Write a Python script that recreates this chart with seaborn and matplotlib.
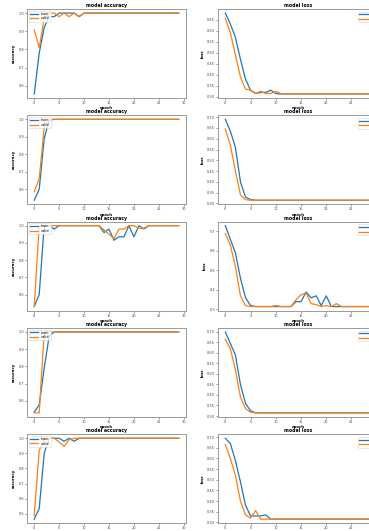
import matplotlib
matplotlib.use('Agg')
import matplotlib.pyplot as plt
import numpy as np
import pandas as pd
import seaborn as sns

epochs = list(range(30))

acc_train = [
    [0.555, 0.78, 0.92, 0.98, 0.98, 1.0, 1.0, 1.0, 1.0, 0.98, 1.0] + [1.0] * 19,
    [0.537, 0.60, 0.89, 0.995] + [1.0] * 26,
    [0.53, 0.60, 1.0, 1.0, 0.98, 1.0, 1.0, 1.0, 1.0, 1.0, 1.0, 1.0, 1.0, 1.0,
     0.96, 0.98, 0.915, 0.935, 0.935, 1.0, 0.935, 1.0, 0.98, 1.0] + [1.0] * 6,
    [0.535, 0.576, 0.79, 0.975] + [1.0] * 26,
    [0.465, 0.535, 0.90, 1.0, 1.0, 1.0, 0.98, 1.0, 0.98, 1.0] + [1.0] * 20,
]
acc_valid = [
    [0.907, 0.81, 0.97, 1.0, 1.0, 0.98, 1.0, 0.98, 1.0, 0.98, 1.0] + [1.0] * 19,
    [0.585, 0.66, 0.955] + [1.0] * 27,
    [0.53, 1.0, 1.0, 1.0, 1.0, 1.0, 1.0, 1.0, 1.0, 1.0, 1.0, 1.0, 1.0, 1.0,
     0.975, 0.95, 0.925, 0.98, 0.98, 1.0, 1.0, 0.985, 0.985] + [1.0] * 7,
    [0.53, 0.53, 1.0] + [1.0] * 27,
    [0.49, 0.92, 0.99, 1.0, 1.0, 0.975, 0.945, 0.99, 1.0] + [1.0] * 21,
]
loss_train = [
    [0.68, 0.63, 0.57, 0.47, 0.38, 0.33, 0.315, 0.32, 0.32, 0.33, 0.315] + [0.313] * 19,
    [0.69, 0.635, 0.56, 0.40, 0.33, 0.318, 0.315] + [0.315] * 23,
    [0.73, 0.66, 0.59, 0.46, 0.36, 0.32, 0.315, 0.315, 0.315, 0.315, 0.315, 0.315,
     0.315, 0.315, 0.34, 0.34, 0.39, 0.36, 0.37, 0.32, 0.37, 0.315] + [0.315] * 8,
    [0.70, 0.645, 0.59, 0.45, 0.36, 0.325, 0.315] + [0.315] * 23,
    [0.695, 0.67, 0.59, 0.49, 0.38, 0.33, 0.33, 0.33, 0.335, 0.315] + [0.315] * 20,
]
loss_valid = [
    [0.655, 0.59, 0.49, 0.39, 0.335, 0.33, 0.315, 0.325, 0.315, 0.315, 0.325, 0.315] + [0.313] * 18,
    [0.645, 0.57, 0.45, 0.34, 0.318, 0.315] + [0.315] * 24,
    [0.69, 0.63, 0.52, 0.37, 0.32, 0.315, 0.315, 0.315, 0.315, 0.315, 0.32, 0.315,
     0.315, 0.315, 0.35, 0.375, 0.385, 0.33, 0.325, 0.315, 0.32, 0.315, 0.33, 0.315] + [0.315] * 6,
    [0.665, 0.62, 0.52, 0.39, 0.335, 0.318, 0.315] + [0.315] * 23,
    [0.665, 0.60, 0.52, 0.40, 0.335, 0.32, 0.355, 0.315] + [0.315] * 22,
]

W, H = 369, 531
fig = plt.figure(figsize=(W / 100, H / 100), dpi=100)

tick_fs = 2.5
lab_fs = 2.8
spine_c = '#9a9a9a'


def style(ax, title, ylabel):
    ax.set_title(title, fontsize=3.3, fontweight='bold', pad=1.5)
    ax.set_xlabel('epoch', fontsize=lab_fs, fontweight='bold', labelpad=1)
    ax.set_ylabel(ylabel, fontsize=lab_fs, fontweight='bold', labelpad=2)
    ax.tick_params(labelsize=tick_fs, length=1.2, width=0.4, pad=1, colors='#444444')
    for s in ax.spines.values():
        s.set_color(spine_c)
        s.set_linewidth(0.7)
    ax.set_xticks(range(0, 31, 5))


for i in range(5):
    top = 9 + i * 106.3
    h = 89
    bottom = H - (top + h)
    ax1 = fig.add_axes([27 / W, bottom / H, 159 / W, h / H])
    # right panel runs past the figure edge, as in the reference crop
    ax2 = fig.add_axes([218 / W, bottom / H, 161 / W, h / H])

    df = pd.DataFrame({'epoch': epochs, 'train': acc_train[i], 'valid': acc_valid[i]})
    sns.lineplot(data=df, x='epoch', y='train', ax=ax1, color='#1f77b4', lw=0.9, label='train')
    sns.lineplot(data=df, x='epoch', y='valid', ax=ax1, color='#ff7f0e', lw=0.9, label='valid')
    style(ax1, 'model accuracy', 'accuracy')
    ax1.legend(loc='upper left', fontsize=tick_fs, handlelength=2.5, borderpad=0.3,
               labelspacing=0.2, framealpha=0.8, edgecolor='#cccccc').get_frame().set_linewidth(0.4)

    dl = pd.DataFrame({'epoch': epochs, 'train': loss_train[i], 'valid': loss_valid[i]})
    sns.lineplot(data=dl, x='epoch', y='train', ax=ax2, color='#1f77b4', lw=0.9, label='train')
    sns.lineplot(data=dl, x='epoch', y='valid', ax=ax2, color='#ff7f0e', lw=0.9, label='valid')
    style(ax2, 'model loss', 'loss')
    ax2.legend(loc='upper right', bbox_to_anchor=(1.02, 0.99), fontsize=tick_fs,
               handlelength=2.5, borderpad=0.3, labelspacing=0.2, framealpha=0.8,
               edgecolor='#cccccc').get_frame().set_linewidth(0.4)

fig.savefig('out.png', dpi=100)
